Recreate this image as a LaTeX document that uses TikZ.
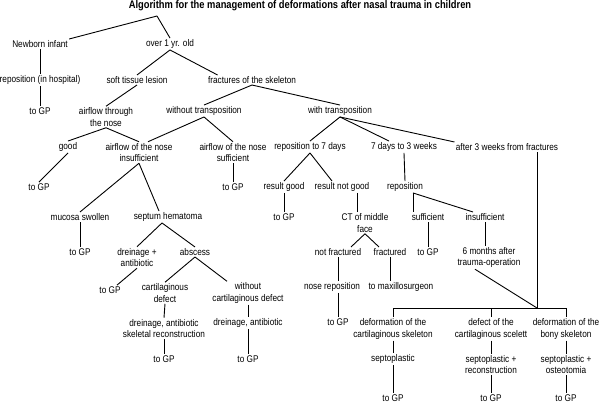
\documentclass[tikz,border=0pt]{standalone}
\usepackage{fontspec}
\newfontfamily\chartfont{Liberation Sans}[FakeStretch=0.85]
\usepackage{tikz}
\tikzset{>=latex}
\tikzstyle{entry}=[inner sep=1pt,align=center,font=\chartfont\fontsize{9.7}{11.5}\selectfont]
\tikzstyle{heading}=[inner sep=0pt,font=\chartfont\bfseries\fontsize{11}{13}\selectfont]

\begin{document}
\begin{tikzpicture}[x=1pt,y=-1pt,line width=0.9pt]
  \useasboundingbox (0,0) rectangle (600,404);
  \node[heading] (title) at (300,6) {Algorithm for the management of deformations after nasal trauma in children};
  \coordinate (root) at (157,16);
  % left branch
  \node[entry] (newborn) at (40,44) {Newborn infant};
  \node[entry] (over) at (170,44) {over 1 yr. old};
  \node[entry] (hosp) at (40,80) {reposition (in hospital)};
  \node[entry] (gp1) at (40,111) {to GP};
  \node[entry] (soft) at (137,80) {soft tissue lesion};
  \node[entry] (skel) at (252,80) {fractures of the skeleton};
  \node[entry] (flow) at (106,117) {airflow through\\the nose};
  \node[entry] (good) at (68,147) {good};
  \node[entry] (gp2) at (39,187) {to GP};
  \node[entry] (insuf) at (139,152.5) {airflow of the nose\\insufficient};
  \node[entry] (notrans) at (204,111) {without transposition};
  \node[entry] (trans) at (340,111) {with transposition};
  \node[entry] (suf) at (233,152.5) {airflow of the nose\\sufficient};
  \node[entry] (gp3) at (233,187) {to GP};
  \node[entry] (mucosa) at (80,217) {mucosa swollen};
  \node[entry] (gp4) at (80,252) {to GP};
  \node[entry] (septum) at (168,217) {septum hematoma};
  \node[entry] (drain) at (137,257.5) {dreinage +\\antibiotic};
  \node[entry] (gp5) at (110,290) {to GP};
  \node[entry] (absc) at (195,252) {abscess};
  \node[entry] (cdef) at (165,293) {cartilaginous\\defect};
  \node[entry] (nocdef) at (248,293) {without\\cartilaginous defect};
  \node[entry] (recon) at (164,328.5) {dreinage, antibiotic\\skeletal reconstruction};
  \node[entry] (gp6) at (164,359) {to GP};
  \node[entry] (anti) at (248,323) {dreinage, antibiotic};
  \node[entry] (gp7) at (248,359) {to GP};
  % right branch
  \node[entry] (early) at (310,147) {reposition to 7 days};
  \node[entry] (mid) at (404,147) {7 days to 3 weeks};
  \node[entry] (late) at (507,147) {after 3 weeks from fractures};
  \node[entry] (rgood) at (284,187) {result good};
  \node[entry] (gp8) at (284,217) {to GP};
  \node[entry] (rbad) at (342,187) {result not good};
  \node[entry] (ct) at (365,223) {CT of middle\\face};
  \node[entry] (nofrac) at (338,252) {not fractured};
  \node[entry] (frac) at (390,252) {fractured};
  \node[entry] (nrep) at (332,287) {nose reposition};
  \node[entry] (gp9) at (338,322) {to GP};
  \node[entry] (maxi) at (401,287) {to maxillosurgeon};
  \node[entry] (repo) at (405,187) {reposition};
  \node[entry] (enough) at (428,217) {sufficient};
  \node[entry] (gp10) at (428,252) {to GP};
  \node[entry] (short) at (485,217) {insufficient};
  \node[entry] (later) at (489,257.5) {6 months after\\trauma-operation};
  \coordinate (meet) at (537,308);
  \coordinate (fork) at ([xshift=8pt]repo.south);
  % columns after 3 weeks
  \node[entry] (defa) at (393,329) {deformation of the\\cartilaginous skeleton};
  \node[entry] (defb) at (491,329) {defect of the\\cartilaginous scelett};
  \node[entry] (defc) at (566,329) {deformation of the\\bony skeleton};
  \node[entry] (sepa) at (393,359) {septoplastic};
  \node[entry] (sepb) at (491,364.5) {septoplastic +\\reconstruction};
  \node[entry] (sepc) at (566,364.5) {septoplastic +\\osteotomia};
  \node[entry] (outa) at (393,398) {to GP};
  \node[entry] (outb) at (491,398) {to GP};
  \node[entry] (outc) at (566,398) {to GP};

  \draw (root) -- (newborn.north east);
  \draw (root) -- (over.north);
  \draw (newborn.south) -- (hosp.north);
  \draw (hosp.south) -- (gp1.north);
  \draw (over.south) -- (soft.north);
  \draw (over.south) -- ([xshift=11pt]skel.north west);
  \draw (soft.south) -- (flow.north);
  \draw (flow.south) -- (good.north);
  \draw (flow.south) -- (insuf.north);
  \draw (good.south) -- (gp2.north);
  \draw (skel.south) -- (notrans.north);
  \draw (skel.south) -- (trans.north);
  \draw (notrans.south) -- ([xshift=9pt]insuf.north);
  \draw (notrans.south) -- (suf.north);
  \draw (suf.south) -- (gp3.north);
  \draw (insuf.south) -- (mucosa.north);
  \draw (insuf.south) -- ([xshift=-9pt]septum.north);
  \draw (mucosa.south) -- (gp4.north);
  \draw ([xshift=-6pt]septum.south) -- (drain.north);
  \draw ([xshift=-6pt]septum.south) -- (absc.north);
  \draw (drain.south) -- ([xshift=7pt]gp5.north);
  \draw (absc.south) -- (cdef.north);
  \draw (absc.south) -- ([xshift=-21pt]nocdef.north);
  \draw (cdef.south) -- (recon.north);
  \draw (recon.south) -- (gp6.north);
  \draw (nocdef.south) -- (anti.north);
  \draw (anti.south) -- (gp7.north);

  \draw (trans.south) -- (early.north);
  \draw (trans.south) -- ([xshift=-15pt]mid.north);
  \draw (trans.south) -- (late.north west);
  \draw (early.south) -- (rgood.north);
  \draw (early.south) -- ([xshift=-10pt]rbad.north);
  \draw (rgood.south) -- (gp8.north);
  \draw ([xshift=15pt]rbad.south) -- ([xshift=-8pt]ct.north);
  \draw (ct.south) -- ([xshift=13pt]nofrac.north);
  \draw (ct.south) -- ([xshift=-11pt]frac.north);
  \draw (nofrac.south) -- (nofrac.south |- nrep.north);
  \draw (gp9.north |- nrep.south) -- (gp9.north);
  \draw (frac.south) -- (frac.south |- maxi.north);
  \draw (mid.south) -- (repo.north);
  \draw (fork) -- (fork |- enough.north);
  \draw (fork) -- ([xshift=-12pt]short.north);
  \draw (enough.south) -- (gp10.north);
  \draw (short.south) -- (short.south |- later.north);
  \draw ([xshift=-14pt]later.south) -- (meet);
  \draw (late.south -| meet) -- (meet);
  \draw (meet -| defa.north) -- (meet -| defc.north);
  \foreach \c in {a,b,c}{
    \draw (meet -| def\c.north) -- (def\c.north);
    \draw (def\c.south) -- (sep\c.north);
    \draw (sep\c.south) -- (out\c.north);
  }
\end{tikzpicture}
\end{document}
